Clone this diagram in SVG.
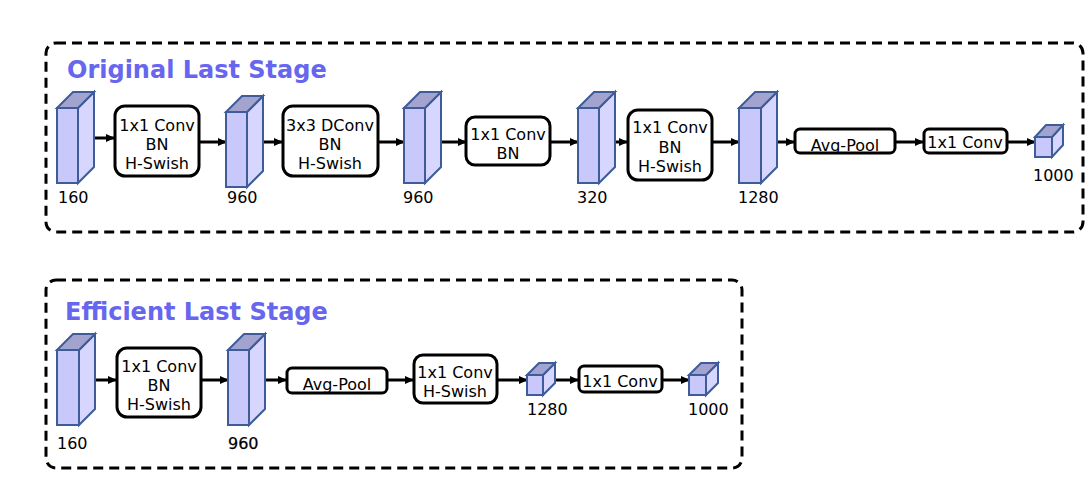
<svg xmlns="http://www.w3.org/2000/svg" width="1092" height="490" viewBox="0 0 1092 490">
<style>
.stage{fill:none;stroke:#000;stroke-width:3;stroke-dasharray:10 6}
.title{font-family:"DejaVu Sans",sans-serif;font-weight:bold;font-size:24px;fill:#6666ee}
.t{font-family:"DejaVu Sans",sans-serif;font-size:16px;fill:#000;text-anchor:middle}
.lbl{font-family:"DejaVu Sans",sans-serif;font-size:16px;fill:#000}
.box{fill:#fff;stroke:#000;stroke-width:3}
.front{fill:#c8c8fa;stroke:#3d5c99;stroke-width:2}
.side{fill:#d6d6ff;stroke:#3d5c99;stroke-width:2}
.top{fill:#a3a3cf;stroke:#3d5c99;stroke-width:2}
.arr{stroke:#000;stroke-width:3;fill:none;marker-end:url(#ah)}
</style>
<defs>
<marker id="ah" markerWidth="10" markerHeight="8" refX="8" refY="4" orient="auto" markerUnits="userSpaceOnUse">
<path d="M0,0 L9,4 L0,8 Z" fill="#000"/>
</marker>
</defs>
<rect width="1092" height="490" fill="#fff"/>

<g id="stage-original">
<rect class="stage" x="46" y="43" width="1037" height="189" rx="10"/>
<text class="title" x="67" y="78">Original Last Stage</text>
</g>
<g id="stage-efficient">
<rect class="stage" x="46" y="280" width="696" height="188" rx="10"/>
<text class="title" x="65" y="320">Efficient Last Stage</text>
</g>

<g id="connectors">
<line class="arr" x1="89" y1="138" x2="114" y2="138"/>
<line class="arr" x1="199" y1="142" x2="226" y2="142"/>
<line class="arr" x1="255" y1="142" x2="282" y2="142"/>
<line class="arr" x1="378" y1="142" x2="404" y2="142"/>
<line class="arr" x1="436" y1="142" x2="466" y2="142"/>
<line class="arr" x1="551" y1="142" x2="578" y2="142"/>
<line class="arr" x1="602" y1="142" x2="627" y2="142"/>
<line class="arr" x1="713" y1="142" x2="739" y2="142"/>
<line class="arr" x1="769" y1="142" x2="794" y2="142"/>
<line class="arr" x1="895" y1="142" x2="923" y2="142"/>
<line class="arr" x1="1007" y1="142" x2="1035" y2="142"/>

<line class="arr" x1="90" y1="380" x2="116" y2="380"/>
<line class="arr" x1="201" y1="380" x2="228" y2="380"/>
<line class="arr" x1="257" y1="380" x2="286" y2="380"/>
<line class="arr" x1="387" y1="380" x2="413" y2="380"/>
<line class="arr" x1="498" y1="380" x2="527" y2="380"/>
<line class="arr" x1="550" y1="380" x2="578" y2="380"/>
<line class="arr" x1="663" y1="380" x2="689" y2="380"/>
</g>

<!-- top row -->
<g id="t-c160">
<rect class="front" x="57" y="108" width="21" height="75"/>
<polygon class="side" points="78,108 94,92 94,167 78,183"/>
<polygon class="top" points="57,108 73,92 94,92 78,108"/>
<text class="lbl" x="58" y="203">160</text>
</g>
<g id="t-b1">
<rect class="box" x="115" y="106" width="84" height="70" rx="10"/>
<text class="t" x="157" y="131">1x1 Conv</text>
<text class="t" x="157" y="150">BN</text>
<text class="t" x="157" y="169">H-Swish</text>
</g>
<g id="t-c960a">
<rect class="front" x="226" y="112" width="21" height="75"/>
<polygon class="side" points="247,112 263,96 263,171 247,187"/>
<polygon class="top" points="226,112 242,96 263,96 247,112"/>
<text class="lbl" x="227" y="203">960</text>
</g>
<g id="t-b2">
<rect class="box" x="283" y="106" width="95" height="70" rx="10"/>
<text class="t" x="330" y="131">3x3 DConv</text>
<text class="t" x="330" y="150">BN</text>
<text class="t" x="330" y="169">H-Swish</text>
</g>
<g id="t-c960b">
<rect class="front" x="404" y="108" width="21" height="75"/>
<polygon class="side" points="425,108 441,92 441,167 425,183"/>
<polygon class="top" points="404,108 420,92 441,92 425,108"/>
<text class="lbl" x="403" y="203">960</text>
</g>
<g id="t-b3">
<rect class="box" x="466" y="117" width="84" height="48" rx="9"/>
<text class="t" x="508" y="140">1x1 Conv</text>
<text class="t" x="508" y="159">BN</text>
</g>
<g id="t-c320">
<rect class="front" x="578" y="108" width="21" height="75"/>
<polygon class="side" points="599,108 615,92 615,167 599,183"/>
<polygon class="top" points="578,108 594,92 615,92 599,108"/>
<text class="lbl" x="577" y="203">320</text>
</g>
<g id="t-b4">
<rect class="box" x="628" y="110" width="84" height="70" rx="10"/>
<text class="t" x="670" y="133">1x1 Conv</text>
<text class="t" x="670" y="153">BN</text>
<text class="t" x="670" y="172">H-Swish</text>
</g>
<g id="t-c1280">
<rect class="front" x="739" y="108" width="22" height="75"/>
<polygon class="side" points="761,108 777,92 777,167 761,183"/>
<polygon class="top" points="739,108 755,92 777,92 761,108"/>
<text class="lbl" x="738" y="203">1280</text>
</g>
<g id="t-b5">
<rect class="box" x="795" y="129" width="100" height="24" rx="5"/>
<text class="t" x="845" y="151">Avg-Pool</text>
</g>
<g id="t-b6">
<rect class="box" x="924" y="129" width="83" height="24" rx="5"/>
<text class="t" x="965" y="148">1x1 Conv</text>
</g>
<g id="t-c1000">
<rect class="front" x="1035" y="137" width="17" height="20"/>
<polygon class="side" points="1052,137 1063,125 1063,145 1052,157"/>
<polygon class="top" points="1035,137 1046,125 1063,125 1052,137"/>
<text class="lbl" x="1033" y="181">1000</text>
</g>

<!-- bottom row -->
<g id="b-c160">
<rect class="front" x="57" y="350" width="22" height="75"/>
<polygon class="side" points="79,350 95,334 95,409 79,425"/>
<polygon class="top" points="57,350 73,334 95,334 79,350"/>
<text class="lbl" x="57" y="449">160</text>
</g>
<g id="b-b1">
<rect class="box" x="117" y="348" width="84" height="69" rx="10"/>
<text class="t" x="159" y="372">1x1 Conv</text>
<text class="t" x="159" y="391">BN</text>
<text class="t" x="159" y="410">H-Swish</text>
</g>
<g id="b-c960">
<rect class="front" x="228" y="350" width="21" height="75"/>
<polygon class="side" points="249,350 265,334 265,409 249,425"/>
<polygon class="top" points="228,350 244,334 265,334 249,350"/>
<text class="lbl" x="228" y="449" stroke="#000" stroke-width="0.25">960</text>
</g>
<g id="b-b2">
<rect class="box" x="287" y="368" width="100" height="25" rx="5"/>
<text class="t" x="337" y="390">Avg-Pool</text>
</g>
<g id="b-b3">
<rect class="box" x="414" y="355" width="83" height="48" rx="9"/>
<text class="t" x="455" y="378">1x1 Conv</text>
<text class="t" x="455" y="397">H-Swish</text>
</g>
<g id="b-c1280">
<rect class="front" x="527" y="375" width="16" height="20"/>
<polygon class="side" points="543,375 555,363 555,383 543,395"/>
<polygon class="top" points="527,375 539,363 555,363 543,375"/>
<text class="lbl" x="527" y="415">1280</text>
</g>
<g id="b-b4">
<rect class="box" x="579" y="366" width="83" height="26" rx="5"/>
<text class="t" x="620" y="387">1x1 Conv</text>
</g>
<g id="b-c1000">
<rect class="front" x="689" y="375" width="17" height="20"/>
<polygon class="side" points="706,375 718,363 718,383 706,395"/>
<polygon class="top" points="689,375 701,363 718,363 706,375"/>
<text class="lbl" x="688" y="415">1000</text>
</g>
</svg>
